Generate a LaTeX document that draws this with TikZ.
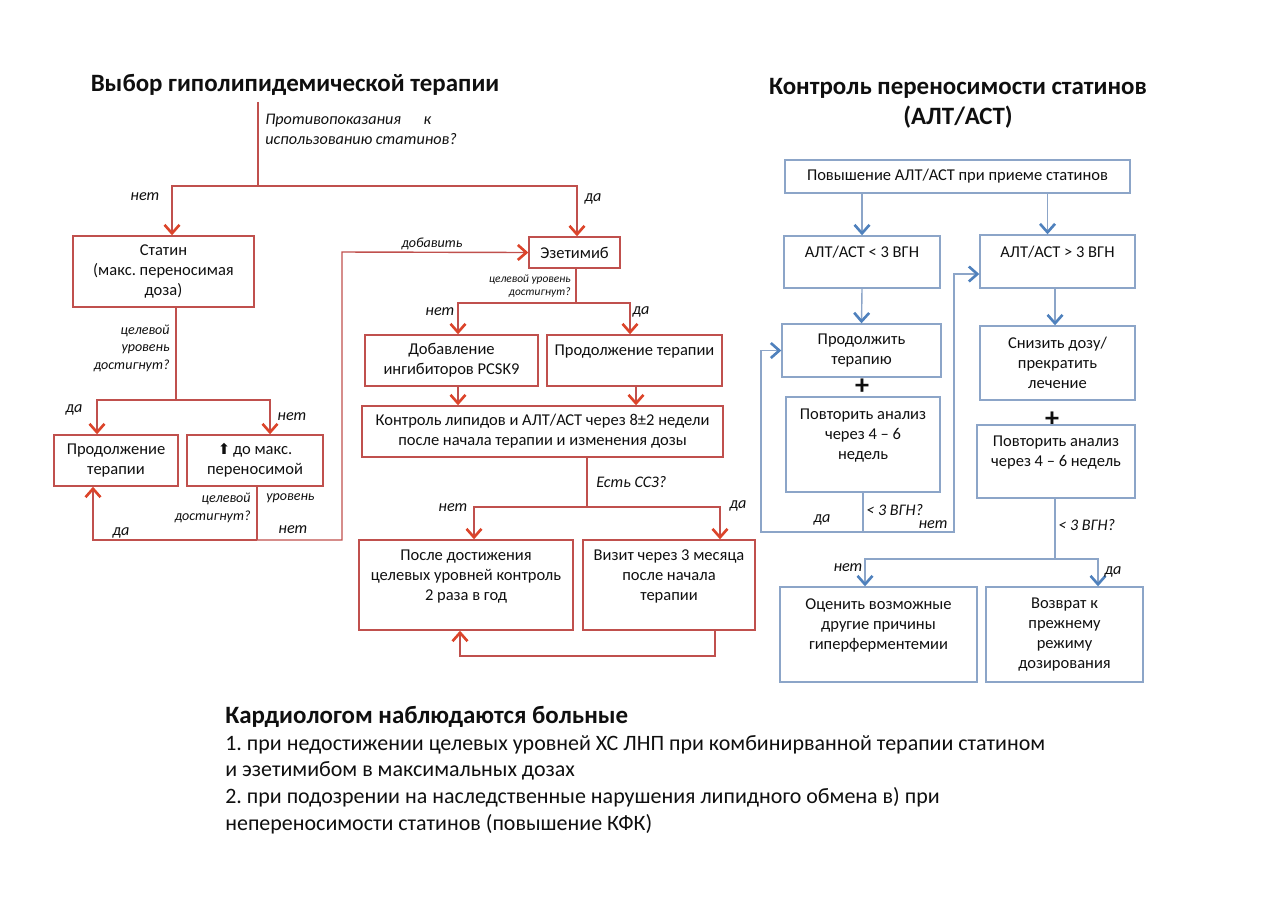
\documentclass[tikz,border=0pt]{standalone}
\usepackage{fontspec}
\setmainfont{Carlito}
\newfontfamily\arrowfont{DejaVu Sans}
\usepackage{xcolor}
\usetikzlibrary{arrows.meta, positioning, calc}
\frenchspacing

\definecolor{redline}{RGB}{192,80,77}
\definecolor{redtip}{RGB}{220,68,42}
\definecolor{blueline}{RGB}{140,165,200}
\definecolor{bluetip}{RGB}{79,129,189}
\definecolor{txt}{RGB}{15,15,15}

\begin{document}
\begin{tikzpicture}[
    x=0.02cm, y=-0.02cm,
    every node/.style={text=txt},
    rbox/.style={rectangle, draw=redline, line width=0.8pt, align=center, font=\fontsize{9.4}{11.4}\selectfont, inner sep=2pt},
    bbox/.style={rbox, draw=blueline},
    ttl/.style={font=\fontsize{14.2}{17.2}\selectfont\bfseries, align=center},
    ans/.style={font=\fontsize{9.2}{11}\selectfont\itshape, inner sep=0pt},
    qtxt/.style={font=\fontsize{8}{10}\selectfont\itshape, inner sep=0pt},
    rl/.style={draw=redline, line width=0.8pt},
    rarr/.style={rl, -{Straight Barb[length=1.7mm, width=3mm, line width=1.5pt, color=redtip]}},
    bl/.style={draw=blueline, line width=0.8pt},
    barr/.style={bl, -{Straight Barb[length=1.7mm, width=3mm, line width=1.5pt, color=bluetip]}},
    plus/.style={font=\fontsize{16}{16}\selectfont\bfseries, inner sep=0pt},
]
\useasboundingbox (0,0) rectangle (1280,904);

% ======== STATIN CHOICE (left) ========
\node[ttl] (ttlchoice) at (295,85) {Выбор гиполипидемической терапии};
\node[ans, anchor=north west, align=left] (qcontra) at (265,114) {Противопоказания\hspace{1.4em}к\\использованию статинов?};
\coordinate (splitA) at (258,186);
\node[rbox, minimum width=3.62cm, minimum height=1.42cm] (statin) at (163.5,271.5) {Статин\\(макс. переносимая\\доза)};
\node[rbox, minimum width=1.82cm, minimum height=0.62cm] (ezet) at (574.5,252.5) {Эзетимиб};

\draw[rl] (ttlchoice.south -| splitA) -- (splitA);
\draw[rarr] (splitA) -| ([xshift=0.17cm]statin.north);
\draw[rarr] (splitA) -| ([xshift=0.05cm]ezet.north);
\node[ans] (noA) at (145,197) {нет};
\node[ans] (yesA) at (593,199) {да};

% target reached on statin?
\coordinate (splitB) at (176,400);
\draw[rl] (statin.south -| splitB) -- (splitB);
\node[qtxt, anchor=east, align=right] (qstatin) at (170,348) {целевой\\уровень\\достигнут?};
\node[rbox, minimum width=2.48cm, minimum height=1.02cm] (statcont) at (116,460.5) {Продолжение\\терапии};
\node[rbox, minimum width=2.72cm, minimum height=1.02cm] (statmax) at (255,460.5) {{\arrowfont\fontsize{8.5}{10}\selectfont ⬆}\,до макс.\\переносимой};
\draw[rarr] (splitB) -| ([xshift=-0.38cm]statcont.north);
\draw[rarr] (splitB) -| ([xshift=0.3cm]statmax.north);
\node[ans] (yesB) at (74,410) {да};
\node[ans] (noB) at (292,417) {нет};

% back loop: continue or add ezetimibe
\coordinate (splitC) at (257,540);
\coordinate (addturn) at (342,252);
\draw[rl] (statmax.south -| splitC) -- (splitC);
\draw[rarr] (splitC) -| ([xshift=-0.46cm]statcont.south);
\draw[rarr] (splitC) -| (addturn) -- (ezet.west);
\node[qtxt, anchor=north east, align=right] (qmax) at (251,493) {целевой\\достигнут?};
\node[qtxt, anchor=north west] (qmaxb) at (266,493) {уровень};
\node[ans] (noC) at (293,530) {нет};
\node[ans] (yesC) at (121,533) {да};
\node[qtxt, anchor=south] (addlbl) at (432,250) {добавить};

% ======== EZETIMIBE BRANCH (middle) ========
\coordinate (splitD) at (576,303);
\draw[rl] (ezet.south -| splitD) -- (splitD);
\node[font=\fontsize{6.5}{7.8}\selectfont\itshape, inner sep=0pt, anchor=east, align=right] (qezet) at (571,286) {целевой уровень\\достигнут?};
\node[rbox, minimum width=3.46cm, minimum height=1.02cm] (pcsk) at (451.5,360.5) {Добавление\\ингибиторов PCSK9};
\node[rbox, minimum width=3.5cm, minimum height=1.02cm] (ezcont) at (634.5,360.5) {Продолжение терапии\\~};
\draw[rarr] (splitD) -| ([xshift=0.13cm]pcsk.north);
\draw[rarr] (splitD) -| ([xshift=-0.09cm]ezcont.north);
\node[ans] (noD) at (440,312) {нет};
\node[ans] (yesD) at (641,312) {да};

\node[rbox, minimum width=7.22cm, minimum height=1.02cm] (lipctrl) at (542.5,431.5) {Контроль липидов и АЛТ/АСТ через 8±2 недели\\после начала терапии и изменения дозы};
\draw[rarr] ([xshift=0.13cm]pcsk.south) -- ([xshift=0.13cm]pcsk.south |- lipctrl.north);
\draw[rarr] ([xshift=0.03cm]ezcont.south) -- ([xshift=0.03cm]ezcont.south |- lipctrl.north);

% CVD present?
\coordinate (splitE) at (587,507);
\draw[rl] (lipctrl.south -| splitE) -- (splitE);
\node[ans, anchor=west] (qcvd) at (596,482) {Есть ССЗ?};
\node[rbox, minimum width=4.28cm, minimum height=1.8cm] (twice) at (466,585) {После достижения\\целевых уровней контроль\\2 раза в год\\~};
\node[rbox, minimum width=3.44cm, minimum height=1.8cm] (visit) at (669,585) {Визит через 3 месяца\\после начала\\терапии\\~};
\draw[rarr] (splitE) -| ([xshift=0.16cm]twice.north);
\draw[rarr] (splitE) -| ([xshift=1.02cm]visit.north);
\node[ans] (noE) at (453,508) {нет};
\node[ans] (yesE) at (738,506) {да};
\coordinate (loopturn) at (715,656);
\draw[rarr] (visit.south -| loopturn) -- (loopturn) -| ([xshift=-0.12cm]twice.south);

% ======== TOLERANCE CONTROL (right) ========
\node[ttl] (ttltol) at (958,103) {Контроль переносимости статинов\\(АЛТ/АСТ)};
\node[bbox, minimum width=6.9cm, minimum height=0.66cm] (altrise) at (957.5,176.5) {Повышение АЛТ/АСТ при приеме статинов};
\node[bbox, minimum width=3.12cm, minimum height=1.04cm] (altlow) at (862,262) {АЛТ/АСТ < 3 ВГН\\~};
\node[bbox, minimum width=3.1cm, minimum height=1.06cm] (althigh) at (1057.5,261.5) {АЛТ/АСТ > 3 ВГН\\~};
\draw[barr] (altrise.south -| altlow) -- (altlow.north);
\draw[barr] ([xshift=-0.2cm]althigh.north |- altrise.south) -- ([xshift=-0.2cm]althigh.north);

% below 3 ULN
\node[bbox, minimum width=3.18cm, minimum height=1.06cm] (contther) at (861.5,350.5) {Продолжить\\терапию};
\draw[barr] (altlow.south) -- (contther.north);
\node[plus] (plusa) at (862,387) {+};
\node[bbox, minimum width=3.08cm, minimum height=1.9cm] (repa) at (863,444.5) {Повторить анализ\\через 4 – 6\\недель\\~};
\coordinate (splitF) at (863,532);
\coordinate (yesturn) at (761,350.5);
\coordinate (returnturn) at (954,274);
\draw[bl] (repa.south) -- (splitF);
\draw[barr] (splitF) -| (yesturn) -- (contther.west);
\draw[barr] (splitF) -| (returnturn) -- (althigh.west |- returnturn);
\node[ans, anchor=west] (qrepa) at (866,510) {< 3 ВГН?};
\node[ans] (yesF) at (822,520) {да};
\node[ans] (noF) at (933,525) {нет};

% above 3 ULN
\node[bbox, minimum width=3.1cm, minimum height=1.48cm] (reduce) at (1057.5,363) {Снизить дозу/\\прекратить\\лечение};
\draw[barr] ([xshift=-0.05cm]althigh.south) -- ([xshift=-0.05cm]reduce.north);
\node[plus] (plusb) at (1052,420) {+};
\node[bbox, minimum width=3.16cm, minimum height=1.46cm] (repb) at (1056,461.5) {Повторить анализ\\через 4 – 6 недель\\~};
\coordinate (splitG) at (1055,559);
\draw[bl] (repb.south -| splitG) -- (splitG);
\node[ans, anchor=west] (qrepb) at (1058,525) {< 3 ВГН?};
\node[bbox, minimum width=3.94cm, minimum height=1.9cm] (othercause) at (878.5,634.5) {Оценить возможные\\другие причины\\гиперферментемии\\~};
\node[bbox, minimum width=3.14cm, minimum height=1.9cm] (restore) at (1064.5,634.5) {Возврат к\\прежнему\\режиму\\дозирования};
\draw[barr] (splitG) -| ([xshift=-0.27cm]othercause.north);
\draw[barr] (splitG) -| ([xshift=0.67cm]restore.north);
\node[ans] (noG) at (848,568) {нет};
\node[ans] (yesG) at (1113,572) {да};

% ======== CARDIOLOGIST NOTE (bottom) ========
\node[anchor=north west, align=left, font=\fontsize{12.5}{15.2}\selectfont, inner sep=0pt] (cardio) at (225,706) {{\fontsize{14.2}{15.2}\selectfont\bfseries Кардиологом наблюдаются больные}\\1. при недостижении целевых уровней ХС ЛНП при комбинирванной терапии статином\\и эзетимибом в максимальных дозах\\2. при подозрении на наследственные нарушения липидного обмена в) при\\непереносимости статинов (повышение КФК)};

\end{tikzpicture}
\end{document}
